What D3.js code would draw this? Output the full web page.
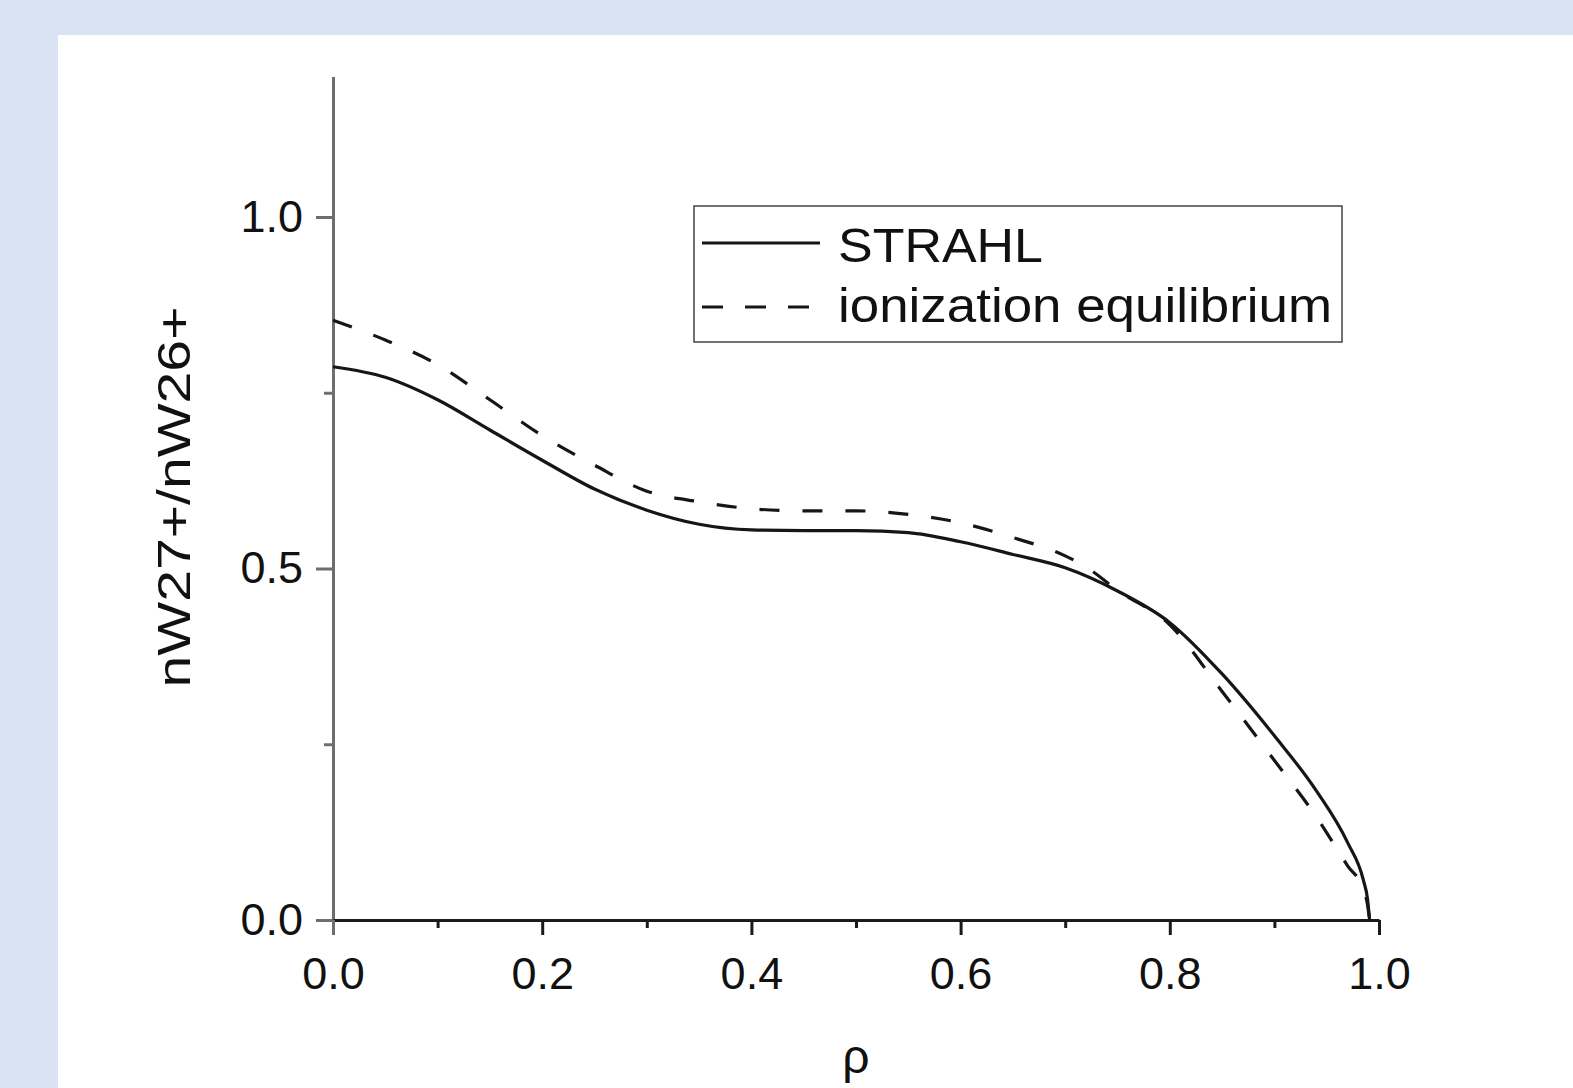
<!DOCTYPE html>
<html>
<head>
<meta charset="utf-8">
<script src="https://cdn.jsdelivr.net/npm/d3@7"></script>
<style>
  body { margin: 0; background: #dae3f3; }
  svg { display: block; }
  text { font-family: "Liberation Sans", Arial, sans-serif; }
</style>
</head>
<body>
<div id="chart"></div>
<script>
// radial coordinate and the two ratio profiles
var rhoStrahl = [0, 0.05, 0.1, 0.15, 0.2, 0.25, 0.3, 0.35, 0.4, 0.45, 0.5, 0.55, 0.6, 0.65, 0.7, 0.75, 0.8, 0.85, 0.9, 0.94, 0.97, 0.985, 0.989, 0.991];
var strahl = [0.787, 0.772, 0.740, 0.697, 0.654, 0.613, 0.583, 0.563, 0.555, 0.554, 0.554, 0.551, 0.538, 0.520, 0.501, 0.468, 0.423, 0.350, 0.262, 0.184, 0.110, 0.057, 0.030, 0.0];

var rhoEq = [0, 0.05, 0.1, 0.15, 0.2, 0.25, 0.3, 0.35, 0.4, 0.45, 0.5, 0.55, 0.6, 0.65, 0.7, 0.72, 0.75, 0.8, 0.85, 0.9, 0.94, 0.97, 0.985, 0.989, 0.991];
var ionEq = [0.853, 0.825, 0.790, 0.740, 0.689, 0.647, 0.610, 0.595, 0.585, 0.582, 0.582, 0.577, 0.565, 0.544, 0.518, 0.502, 0.469, 0.420, 0.325, 0.227, 0.147, 0.077, 0.043, 0.022, 0.0];

var xMajor = [0, 0.2, 0.4, 0.6, 0.8, 1.0];
var xMinor = [0.1, 0.3, 0.5, 0.7, 0.9];
var yMajor = [0, 0.5, 1.0];
var yMinor = [0.25, 0.75];

var seriesNames = ["STRAHL", "ionization equilibrium"];

// svg
var svgWidth = 1573;
var svgHeight = 1088;

var svg = d3.select("#chart")
    .append("svg")
    .attr("width", svgWidth)
    .attr("height", svgHeight);

svg.append("rect")
    .attr("width", svgWidth)
    .attr("height", svgHeight)
    .attr("fill", "#dae3f3");

// white panel
svg.append("rect")
    .attr("x", 58)
    .attr("y", 35)
    .attr("width", svgWidth - 58)
    .attr("height", svgHeight - 35)
    .attr("fill", "#ffffff");

// scales
var xScale = d3.scaleLinear().domain([0, 1]).range([333, 1379]);
var yScale = d3.scaleLinear().domain([0, 1.2]).range([920, 920 - 1.2 * 703]);

// y axis (gray)
var leftAxis = d3.axisLeft(yScale)
    .tickValues(yMajor)
    .tickFormat(d3.format(".1f"))
    .tickSize(17)
    .tickSizeOuter(0)
    .tickPadding(13);
var yG = svg.append("g")
    .attr("transform", "translate(" + xScale(0) + ",0)")
    .call(leftAxis);
yG.select(".domain").attr("stroke", "#6e6e6e").attr("stroke-width", 3);
yG.selectAll(".tick line").attr("stroke", "#6e6e6e").attr("stroke-width", 3);
yG.selectAll(".tick text").attr("font-size", 45).attr("fill", "#111");

var yMinorG = svg.append("g")
    .attr("transform", "translate(" + xScale(0) + ",0)")
    .call(d3.axisLeft(yScale).tickValues(yMinor).tickSize(9).tickFormat(""));
yMinorG.select(".domain").remove();
yMinorG.selectAll(".tick line").attr("stroke", "#6e6e6e").attr("stroke-width", 3);

// x axis (black)
var bottomAxis = d3.axisBottom(xScale)
    .tickValues(xMajor)
    .tickFormat(d3.format(".1f"))
    .tickSize(15)
    .tickSizeOuter(0)
    .tickPadding(22);
var xG = svg.append("g")
    .attr("transform", "translate(0," + yScale(0) + ")")
    .call(bottomAxis);
xG.select(".domain").attr("stroke", "#1a1a1a").attr("stroke-width", 3);
xG.selectAll(".tick line").attr("stroke", "#1a1a1a").attr("stroke-width", 3);
xG.selectAll(".tick text").attr("font-size", 45).attr("fill", "#111");
// first x tick also runs down from the gray y axis
xG.selectAll(".tick line").filter(function(d) { return d === 0; }).attr("stroke", "#6e6e6e");

var xMinorG = svg.append("g")
    .attr("transform", "translate(0," + yScale(0) + ")")
    .call(d3.axisBottom(xScale).tickValues(xMinor).tickSize(8).tickFormat(""));
xMinorG.select(".domain").remove();
xMinorG.selectAll(".tick line").attr("stroke", "#1a1a1a").attr("stroke-width", 3);

// axis titles
svg.append("text")
    .attr("transform", "rotate(-90)")
    .attr("x", -497)
    .attr("y", 190)
    .attr("text-anchor", "middle")
    .attr("font-size", 47)
    .attr("fill", "#111")
    .attr("textLength", 381)
    .attr("lengthAdjust", "spacingAndGlyphs")
    .text("nW27+/nW26+");

svg.append("text")
    .attr("x", (xScale(0) + xScale(1)) / 2)
    .attr("y", 1073)
    .attr("text-anchor", "middle")
    .attr("font-size", 48)
    .attr("fill", "#111")
    .text("ρ");

// lines
var line = d3.line()
    .x(function(d) { return xScale(d[0]); })
    .y(function(d) { return yScale(d[1]); })
    .curve(d3.curveMonotoneX);

svg.append("path")
    .datum(d3.zip(rhoEq, ionEq))
    .attr("d", line)
    .attr("fill", "none")
    .attr("stroke", "#161616")
    .attr("stroke-width", 3.2)
    .attr("stroke-dasharray", "20,23");

svg.append("path")
    .datum(d3.zip(rhoStrahl, strahl))
    .attr("d", line)
    .attr("fill", "none")
    .attr("stroke", "#161616")
    .attr("stroke-width", 3.2);

// legend
var legend = svg.append("g");
legend.append("rect")
    .attr("x", 694)
    .attr("y", 206)
    .attr("width", 648)
    .attr("height", 136)
    .attr("fill", "#fff")
    .attr("stroke", "#444")
    .attr("stroke-width", 1.5);

var legendRows = [
    { name: seriesNames[0], y: 243, dash: null, base: 262, len: 205 },
    { name: seriesNames[1], y: 307, dash: "21,22", base: 322, len: 494 }
];
legendRows.forEach(function(r) {
    legend.append("line")
        .attr("x1", 702).attr("x2", 820)
        .attr("y1", r.y).attr("y2", r.y)
        .attr("stroke", "#161616")
        .attr("stroke-width", 3)
        .attr("stroke-dasharray", r.dash);
    legend.append("text")
        .attr("x", 838)
        .attr("y", r.base)
        .attr("font-size", 49)
        .attr("fill", "#111")
        .attr("textLength", r.len)
        .attr("lengthAdjust", "spacingAndGlyphs")
        .text(r.name);
});
</script>
</body>
</html>
